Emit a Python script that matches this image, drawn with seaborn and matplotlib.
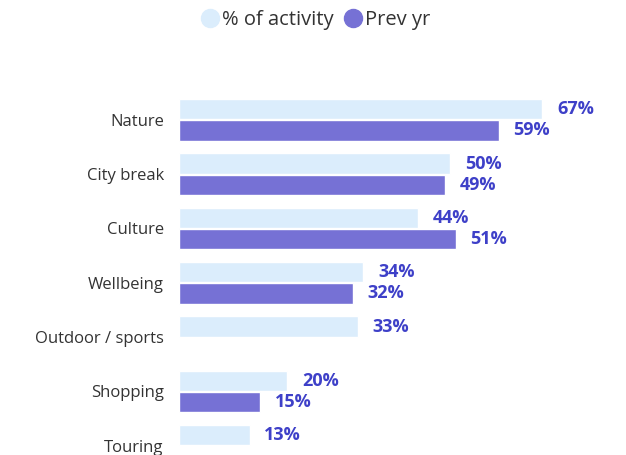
import numpy as np
import pandas as pd
from matplotlib import pyplot as plt
from matplotlib.lines import Line2D
import seaborn as sns

# data
categories = ['Nature', 'City break', 'Culture', 'Wellbeing', 'Outdoor / sports', 'Shopping', 'Touring']
activity = [67, 50, 44, 34, 33, 20, 13]
prev_yr = [59, 49, 51, 32, np.nan, 15, np.nan]
series = ['% of activity', 'Prev yr']
colors = ['#DBEDFC', '#7671D5']

df = pd.DataFrame({
    'category': categories * 2,
    'value': activity + prev_yr,
    'series': [series[0]] * len(categories) + [series[1]] * len(categories),
})

sns.set_style('white')
plt.rcParams['font.family'] = ['Open Sans', 'DejaVu Sans']

fig = plt.figure(figsize=(6.26, 4.55), dpi=100)
ax = fig.add_axes([0.286, 0.0, 0.693, 0.868])

sns.barplot(data=df, y='category', x='value', hue='series', orient='h',
            palette=colors, width=0.78, gap=0.04, order=categories,
            hue_order=series, legend=False, ax=ax, saturation=1)

# 数据标签
for cont in ax.containers:
    for b in cont:
        w = b.get_width()
        if np.isnan(w):
            continue
        ax.text(w + 2.7, b.get_y() + b.get_height() / 2, f'{w:.0f}%',
                ha='left', va='center', color='#3E40C8', fontsize=13, fontweight='bold')

ax.set_xlim(0, 80)
ax.set_ylim(6.17, -1.1)
ax.set_xlabel('')
ax.set_ylabel('')
ax.set_xticks([])
ax.tick_params(axis='y', length=0, pad=11, labelsize=12, labelcolor='#333333')
sns.despine(ax=ax, left=True, bottom=True)

handles = [Line2D([], [], marker='o', linestyle='', markersize=13,
                  markerfacecolor=c, markeredgecolor=c) for c in colors]
fig.legend(handles, series, loc='center', bbox_to_anchor=(0.505, 0.955), ncol=2,
           frameon=False, handlelength=0.8, handletextpad=0.2, columnspacing=0.6,
           fontsize=14.5, labelcolor='#333333')

fig.savefig('out.png', dpi=100)
